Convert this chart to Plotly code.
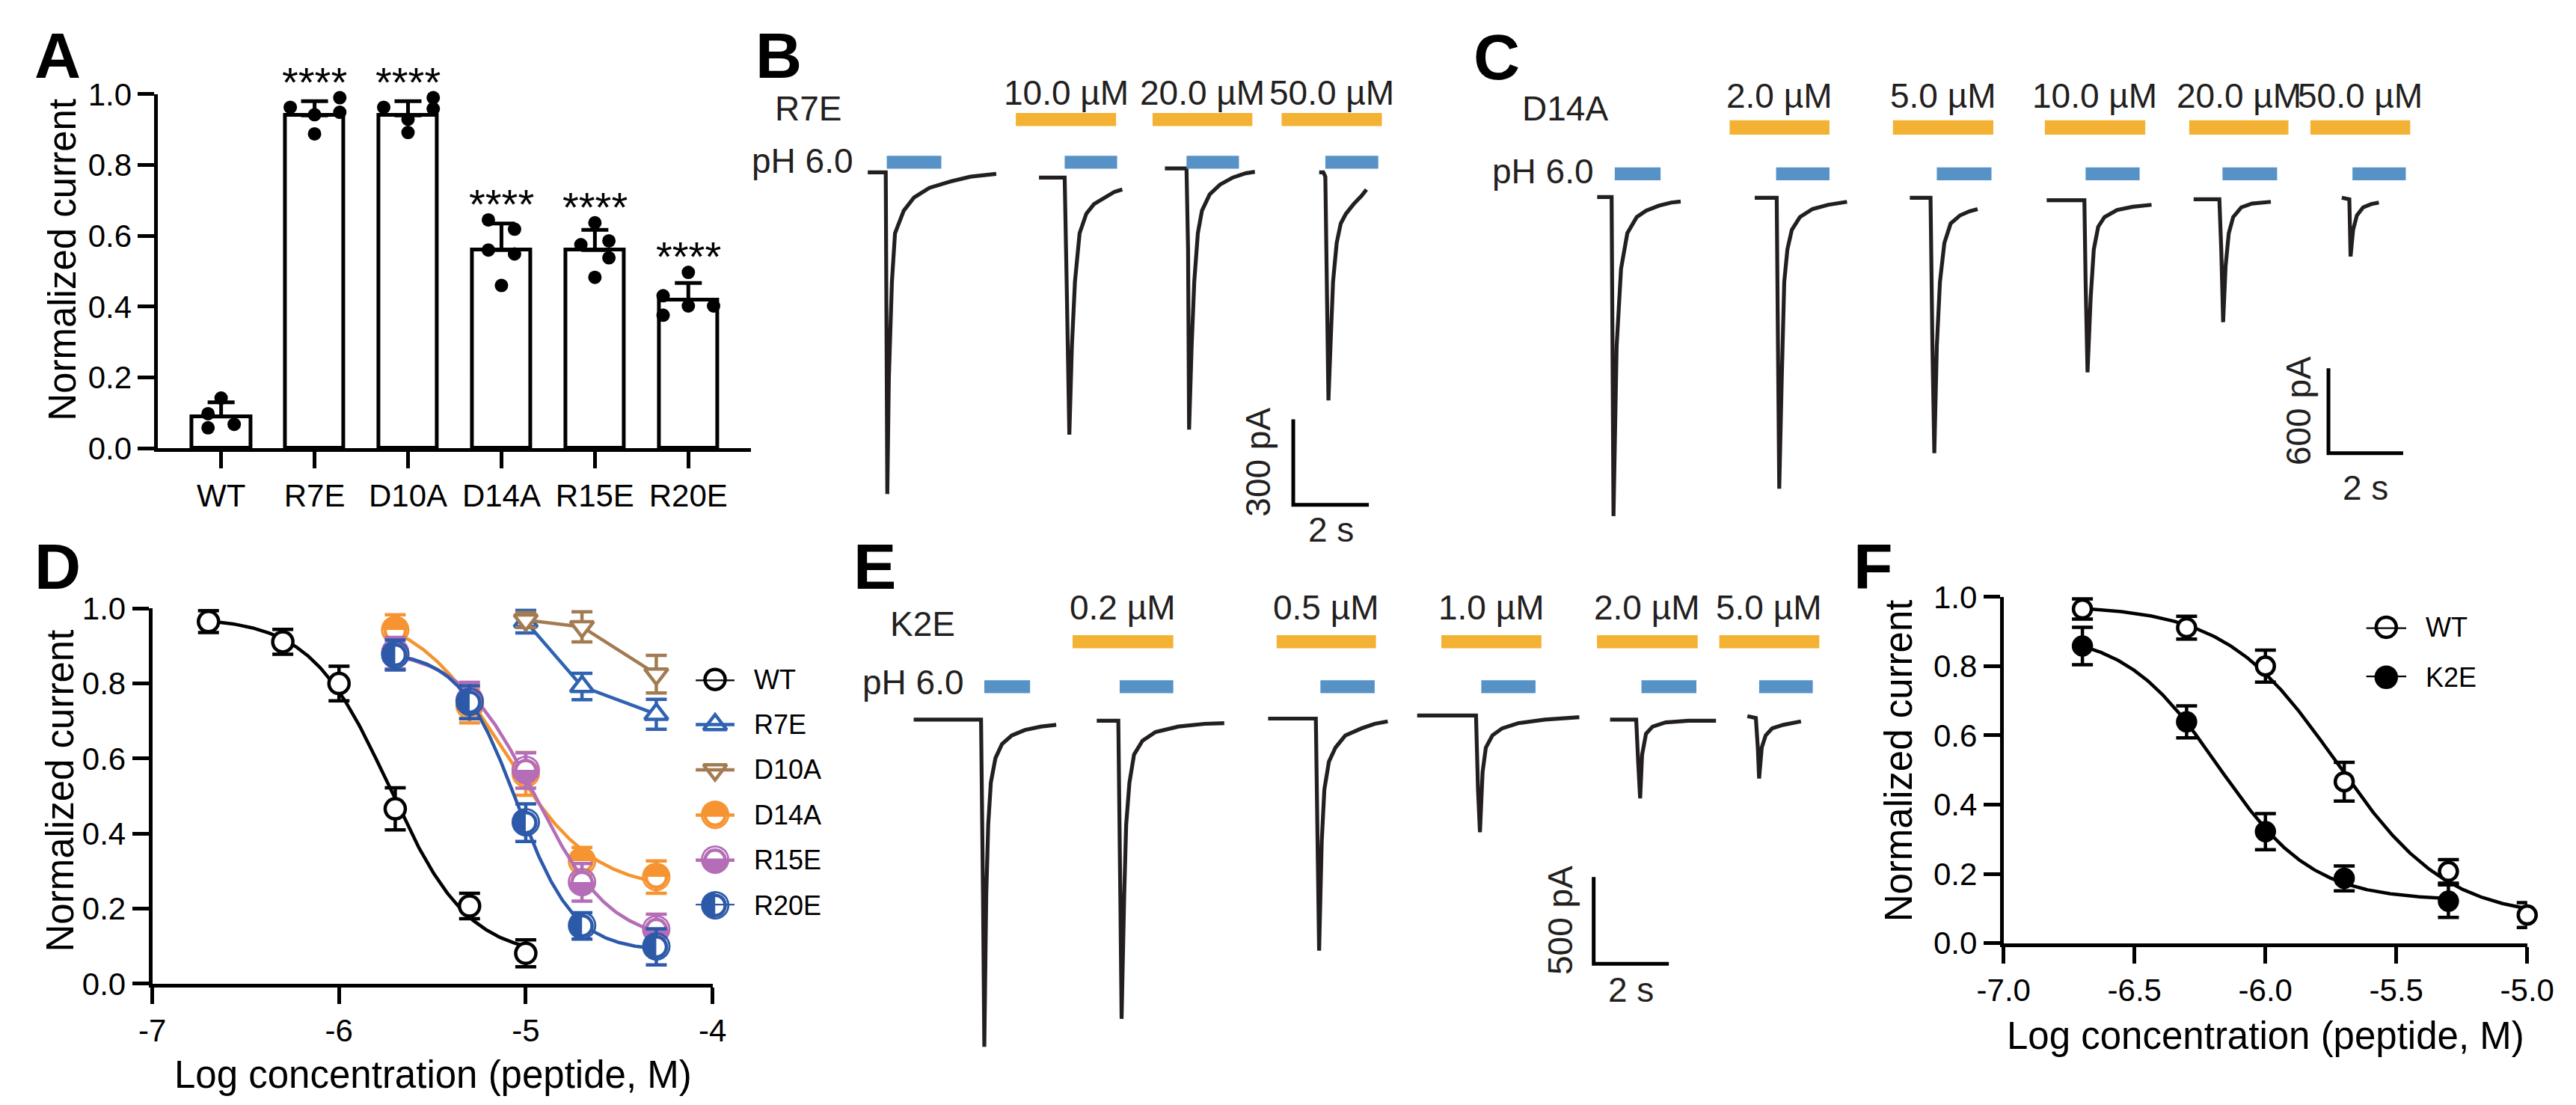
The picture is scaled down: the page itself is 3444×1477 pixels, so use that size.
import numpy as np
import plotly.graph_objects as go

W, H = 3444, 1477
FONT = "Liberation Sans, Arial, Helvetica, sans-serif"
INK = "#231f20"

# ---------------- Panel A data ----------------
A_GROUPS = ["WT", "R7E", "D10A", "D14A", "R15E", "R20E"]
A_MEAN = [0.09, 0.94, 0.94, 0.56, 0.56, 0.42]
A_SD = [0.04, 0.04, 0.04, 0.075, 0.057, 0.047]
A_POINTS = [
    [0.142, 0.098, 0.058, 0.068],
    [0.963, 0.990, 0.942, 0.949, 0.888],
    [0.963, 0.990, 0.929, 0.959, 0.892],
    [0.645, 0.619, 0.560, 0.549, 0.460],
    [0.637, 0.575, 0.586, 0.538, 0.483],
    [0.497, 0.431, 0.402, 0.402, 0.376],
]
A_SIG = ["", "****", "****", "****", "****", "****"]
# horizontal jitter of the dots (style)
A_JITTER = [
    [0.0, -0.14, -0.14, 0.14],
    [-0.26, 0.27, 0.0, 0.27, 0.0],
    [-0.26, 0.27, 0.0, 0.27, 0.0],
    [-0.14, 0.14, -0.14, 0.14, 0.0],
    [0.0, -0.15, 0.15, 0.15, 0.0],
    [0.0, -0.27, 0.0, 0.27, -0.27],
]

# ---------------- Panel D / F data ----------------
WT_CONC = [0.2, 0.5, 1, 2, 5, 10]          # µM
WT_MEAN = [0.965, 0.911, 0.800, 0.466, 0.207, 0.081]
WT_SEM = [0.029, 0.033, 0.046, 0.056, 0.034, 0.036]
MUT_CONC = [2, 5, 10, 20, 50]
D14A_MEAN = [0.941, 0.741, 0.559, 0.326, 0.284]
D14A_SEM = [0.042, 0.046, 0.057, 0.037, 0.043]
R15E_MEAN = [0.881, 0.755, 0.568, 0.270, 0.144]
R15E_SEM = [0.042, 0.048, 0.047, 0.050, 0.041]
R20E_MEAN = [0.876, 0.750, 0.429, 0.154, 0.098]
R20E_SEM = [0.040, 0.044, 0.050, 0.035, 0.048]
HI_CONC = [10, 20, 50]
R7E_MEAN = [0.965, 0.792, 0.718]
R7E_SEM = [0.030, 0.035, 0.040]
D10A_MEAN = [0.969, 0.951, 0.825]
D10A_SEM = [0.020, 0.040, 0.050]
K2E_CONC = [0.2, 0.5, 1, 2, 5]
K2E_MEAN = [0.858, 0.639, 0.322, 0.187, 0.121]
K2E_SEM = [0.054, 0.046, 0.052, 0.036, 0.047]

# ---------------- current traces (time s, current pA) ----------------
B_LABELS = ["10.0 µM", "20.0 µM", "50.0 µM"]
B_START = [0, 4.531, 7.864, 11.946]
B_T = [
    [0, 0.476, 0.517, 0.558, 0.639, 0.721, 0.952, 1.224, 1.633, 2.177, 2.721, 3.265, 3.40],
    [0, 0.680, 0.735, 0.803, 0.871, 0.952, 1.075, 1.252, 1.456, 1.728, 2.000, 2.204],
    [0, 0.571, 0.612, 0.639, 0.707, 0.776, 0.871, 0.980, 1.184, 1.456, 1.796, 2.136, 2.381],
    [0, 0.109, 0.163, 0.204, 0.245, 0.299, 0.367, 0.463, 0.571, 0.707, 0.912, 1.116, 1.252],
]
B_I = [
    [0, 0, -1127, -722, -383, -213, -134, -88, -54, -32, -15, -7, -5],
    [-18, -18, -405, -919, -609, -383, -213, -145, -111, -88, -68, -60],
    [14, 14, -269, -901, -609, -383, -213, -134, -77, -43, -18, -3, 2],
    [0, 0, -15, -383, -799, -609, -383, -247, -179, -145, -111, -83, -60],
]
B_PH = [(0.503, 1.946), (5.211, 6.599), (8.435, 9.823), (12.109, 13.510)]
B_PEP = [(3.918, 6.571), (7.537, 10.177), (10.952, 13.605)]

C_LABELS = ["2.0 µM", "5.0 µM", "10.0 µM", "20.0 µM", "50.0 µM"]
C_START = [0, 4.219, 8.371, 12.036, 15.970, 19.937]
C_T = [
    [0, 0.387, 0.437, 0.521, 0.639, 0.807, 1.059, 1.311, 1.647, 1.984, 2.236],
    [0, 0.588, 0.622, 0.656, 0.723, 0.790, 0.874, 0.992, 1.210, 1.547, 1.967, 2.471],
    [0, 0.555, 0.605, 0.656, 0.723, 0.807, 0.925, 1.093, 1.345, 1.597, 1.815],
    [0, 1.009, 1.042, 1.093, 1.177, 1.261, 1.378, 1.547, 1.883, 2.303, 2.807],
    [0, 0.689, 0.740, 0.790, 0.857, 0.941, 1.059, 1.277, 1.563, 2.068],
    [0, 0.202, 0.235, 0.303, 0.404, 0.572, 0.790, 0.992],
]
C_I = [
    [0, 0, -2259, -1057, -508, -256, -142, -96, -62, -39, -32],
    [-5, -5, -1057, -2065, -1286, -600, -371, -233, -142, -85, -55, -34],
    [-5, -5, -1057, -1813, -1057, -600, -325, -188, -130, -101, -85],
    [-23, -23, -600, -1241, -714, -371, -211, -142, -92, -69, -55],
    [-16, -16, -371, -886, -485, -256, -142, -73, -46, -34],
    [-5, -16, -421, -233, -130, -73, -50, -39],
]
C_PH = [(0.471, 1.698), (4.791, 6.220), (9.094, 10.557), (13.078, 14.524), (16.743, 18.205), (20.223, 21.651)]
C_PEP = [(3.547, 6.220), (7.918, 10.607), (11.986, 14.675), (15.852, 18.508), (19.096, 21.769)]

E_LABELS = ["0.2 µM", "0.5 µM", "1.0 µM", "2.0 µM", "5.0 µM"]
E_START = [0, 4.873, 9.434, 13.402, 18.536, 22.191]
E_T = [
    [0, 1.793, 1.845, 1.880, 1.932, 1.984, 2.054, 2.176, 2.350, 2.611, 2.959, 3.394, 3.794],
    [0, 0.574, 0.627, 0.661, 0.731, 0.783, 0.870, 0.992, 1.218, 1.566, 2.176, 2.872, 3.394],
    [0, 1.271, 1.323, 1.358, 1.427, 1.497, 1.619, 1.793, 2.054, 2.489, 2.837, 3.185],
    [0, 1.566, 1.619, 1.671, 1.741, 1.828, 2.002, 2.263, 2.698, 3.394, 4.316],
    [0, 0.696, 0.748, 0.801, 0.853, 0.957, 1.131, 1.479, 2.089, 2.820],
    [0, 0.226, 0.278, 0.313, 0.383, 0.487, 0.661, 0.957, 1.427],
]
E_I = [
    [0, 0, -1008, -1885, -1008, -605, -363, -222, -141, -91, -60, -40, -30],
    [-6, -6, -1008, -1724, -1008, -605, -363, -202, -121, -71, -40, -24, -20],
    [6, 6, -806, -1331, -706, -403, -242, -161, -91, -50, -24, -10],
    [24, 24, -403, -649, -302, -161, -91, -50, -20, 0, 14],
    [0, 0, -242, -454, -202, -81, -40, -16, -6, -6],
    [20, 10, -161, -339, -161, -91, -50, -30, -10],
]
E_PH = [(1.880, 3.098), (5.483, 6.910), (10.826, 12.271), (15.108, 16.552), (19.372, 20.834), (22.505, 23.932)]
E_PEP = [(4.229, 6.910), (9.660, 12.305), (14.046, 16.709), (18.188, 20.869), (21.443, 24.106)]

# scale bars: (pA, s)
B_SCALE = (300, 2)
C_SCALE = (600, 2)
E_SCALE = (500, 2)

# ---------------- style ----------------
COL = {"WT": "#000000", "R7E": "#2f63b2", "D10A": "#a27b52", "D14A": "#f59431",
       "R15E": "#b46db6", "R20E": "#2c5aa9", "K2E": "#000000"}
YELLOW = "#f4b234"
BLUE = "#5792c6"
TICK = 42
TITLE = 51
LABEL = 46
TRACE_W = 5.2


def fx(x):
    return x / W


def fy(y):
    return 1 - y / H


def logc(conc_um):
    return np.log10(np.asarray(conc_um, float) * 1e-6)


def fit_hill(xs, ys):
    xs = np.asarray(xs, float)
    ys = np.asarray(ys, float)
    cs = np.linspace(-8.0, -3.5, 451)[:, None, None]
    hs = np.linspace(0.5, 3.5, 121)[None, :, None]
    s = 1.0 / (1.0 + 10.0 ** ((xs[None, None, :] - cs) * hs))
    u = 1 - s
    v = s
    suu = (u * u).sum(-1)
    svv = (v * v).sum(-1)
    suv = (u * v).sum(-1)
    suy = (u * ys).sum(-1)
    svy = (v * ys).sum(-1)
    det = suu * svv - suv ** 2
    det = np.where(np.abs(det) < 1e-12, np.nan, det)
    b = (svv * suy - suv * svy) / det
    t = (suu * svy - suv * suy) / det
    res = ((b[..., None] * u + t[..., None] * v - ys) ** 2).sum(-1)
    i, j = np.unravel_index(np.nanargmin(res), res.shape)
    return b[i, j], t[i, j], cs[i, 0, 0], hs[0, j, 0]


def hill_curve(xs, ys, n=300):
    b, t, c, h = fit_hill(xs, ys)
    xx = np.linspace(min(xs), max(xs), n)
    return xx, b + (t - b) / (1 + 10 ** ((xx - c) * h))


fig = go.Figure()
ann = []
shapes = []


def text(x, y, s, size=LABEL, xanchor="center", yanchor="middle", angle=0, xref="paper", yref="paper",
         color="black", xshift=0, yshift=0):
    ann.append(dict(x=x, y=y, xref=xref, yref=yref, text=s, showarrow=False, xanchor=xanchor,
                    yanchor=yanchor, textangle=angle, xshift=xshift, yshift=yshift,
                    font=dict(family=FONT, size=size, color=color)))


def data_axis(dom_px, rng, anchor, tickvals=None, ticktext=None, horizontal=True):
    d = dict(domain=[fx(dom_px[0]), fx(dom_px[1])] if horizontal else [fy(dom_px[1]), fy(dom_px[0])],
             range=rng, anchor=anchor, showline=True, linewidth=5, linecolor="black",
             ticks="outside", ticklen=22, tickwidth=5, tickcolor="black", showgrid=False,
             zeroline=False, tickfont=dict(family=FONT, size=TICK, color="black"))
    if tickvals is not None:
        d["tickvals"] = tickvals
        d["ticktext"] = ticktext
    return d


def hidden_axis(dom_px, rng, anchor, horizontal=True):
    return dict(domain=[fx(dom_px[0]), fx(dom_px[1])] if horizontal else [fy(dom_px[1]), fy(dom_px[0])],
                range=rng, anchor=anchor, visible=False, showgrid=False, zeroline=False)


layout = {}

# ================= Panel A =================
A_XDOM = (171, 981)
A_YDOM = (98, 587)       # top (1.0) and bottom (0.0) in px
A_YRANGE = [0, 1.0]
xa = list(range(len(A_GROUPS)))
fig.add_trace(go.Bar(x=xa, y=A_MEAN, width=0.63, marker=dict(color="white", line=dict(color="black", width=5)),
                     error_y=dict(type="data", array=A_SD, arrayminus=[0] * len(A_SD), symmetric=False,
                                  thickness=5, width=18, color="black"),
                     xaxis="x", yaxis="y", showlegend=False, hoverinfo="skip", cliponaxis=False))
dx, dy = [], []
for i, (pts, jit) in enumerate(zip(A_POINTS, A_JITTER)):
    dx += [i + j for j in jit]
    dy += pts
fig.add_trace(go.Scatter(x=dx, y=dy, mode="markers", marker=dict(color="black", size=18),
                         xaxis="x", yaxis="y", showlegend=False, cliponaxis=False, hoverinfo="skip"))


def a_paper_y(v):
    frac = (v - A_YRANGE[0]) / (A_YRANGE[1] - A_YRANGE[0])
    return fy(A_YDOM[1] - frac * (A_YDOM[1] - A_YDOM[0]))


for i, s in enumerate(A_SIG):
    if s:
        top = max(max(A_POINTS[i]), A_MEAN[i] + A_SD[i])
        ann.append(dict(x=i, y=a_paper_y(top + 0.045), xref="x", yref="paper", text=s, showarrow=False,
                        xanchor="center", yanchor="middle", font=dict(family=FONT, size=56, color="black")))
layout["xaxis"] = data_axis(A_XDOM, [-0.674, 5.674], "y", xa, A_GROUPS)
layout["yaxis"] = data_axis(A_YDOM, A_YRANGE, "x", [0, 0.2, 0.4, 0.6, 0.8, 1.0],
                            ["0.0", "0.2", "0.4", "0.6", "0.8", "1.0"], horizontal=False)
text(fx(40), fy(327), "Normalized current", size=TITLE, angle=-90)


# ================= trace panels =================
def trace_panel(ax, xdom, ydom, t0px, pxs, i0px, pxa, starts, T, I, ph, pep, labels, ybands, scale,
                scale_pos, scale_lab_shift, lab_y):
    xn = "x" + ax
    yn = "y" + ax
    layout["xaxis" + ax] = hidden_axis(xdom, [(xdom[0] - t0px) / pxs, (xdom[1] - t0px) / pxs], yn)
    layout["yaxis" + ax] = hidden_axis(ydom, [(i0px - ydom[1]) / pxa, (i0px - ydom[0]) / pxa], xn,
                                       horizontal=False)
    for st, t, cur in zip(starts, T, I):
        fig.add_trace(go.Scatter(x=np.asarray(t) + st, y=cur, mode="lines",
                                 line=dict(color=INK, width=TRACE_W), xaxis=xn, yaxis=yn,
                                 showlegend=False, hoverinfo="skip"))
    (py0, py1), (by0, by1) = ybands
    for a, b in pep:
        shapes.append(dict(type="rect", xref=xn, yref="paper", x0=a, x1=b, y0=fy(py1), y1=fy(py0),
                           fillcolor=YELLOW, line=dict(width=0), layer="above"))
    for a, b in ph:
        shapes.append(dict(type="rect", xref=xn, yref="paper", x0=a, x1=b, y0=fy(by1), y1=fy(by0),
                           fillcolor=BLUE, line=dict(width=0), layer="above"))
    for (a, b), lab in zip(pep, labels):
        text((a + b) / 2, fy(lab_y), lab, xref=xn, color=INK)
    pa, sec = scale
    sx, sy = scale_pos
    fig.add_trace(go.Scatter(x=[sx, sx, sx + sec], y=[sy + pa, sy, sy], mode="lines",
                             line=dict(color="black", width=5), xaxis=xn, yaxis=yn,
                             showlegend=False, hoverinfo="skip"))
    text(sx, sy + pa / 2, f"{pa} pA", xref=xn, yref=yn, angle=-90, xshift=scale_lab_shift[0], color=INK)
    text(sx + sec / 2, sy, f"{sec} s", xref=xn, yref=yn, yshift=scale_lab_shift[1], color=INK)


trace_panel("2", (1100, 1960), (40, 720), 1140, 51.6, 206, 0.394, B_START, B_T, B_I, B_PH, B_PEP,
            B_LABELS, ((124, 142), (183, 201)), B_SCALE, (11.26, -1165), (-47, -33), 96)
text(fx(1059), fy(118), "R7E", color=INK)
text(fx(1122), fy(190), "pH 6.0", xanchor="right", color=INK)

trace_panel("3", (1960, 3444), (40, 720), 2136, 51.0, 240, 0.195, C_START, C_T, C_I, C_PH, C_PEP,
            C_LABELS, ((134, 154), (199, 217)), C_SCALE, (19.58, -1813), (-40, -46), 100)
text(fx(2092), fy(118), "D14A", color=INK)
text(fx(2134), fy(204), "pH 6.0", xanchor="right", color=INK)

trace_panel("5", (1100, 2470), (760, 1440), 1202.7, 51.3, 961.5, 0.2396, E_START, E_T, E_I, E_PH, E_PEP,
            E_LABELS, ((845, 863), (907, 925)), E_SCALE, (18.10, -1407), (-44, -35), 807)
text(fx(1215), fy(829), "K2E", color=INK)
text(fx(1274), fy(910), "pH 6.0", xanchor="right", color=INK)

# ================= Panel D =================
GLYPH = {"D14A": "\u25d3", "R15E": "\u25d2", "R20E": "\u25d0"}
GLYPH_FONT = "DejaVu Sans"
GLYPH_SIZE = 50

d_series = [
    ("WT", WT_CONC, WT_MEAN, WT_SEM, "circle", True),
    ("R7E", HI_CONC, R7E_MEAN, R7E_SEM, "triangle-up", False),
    ("D10A", HI_CONC, D10A_MEAN, D10A_SEM, "triangle-down", False),
    ("D14A", MUT_CONC, D14A_MEAN, D14A_SEM, "circle", True),
    ("R15E", MUT_CONC, R15E_MEAN, R15E_SEM, "circle", True),
    ("R20E", MUT_CONC, R20E_MEAN, R20E_SEM, "circle", True),
]


def plot_series(name, conc, mean, sem, symbol, fitted, xn, yn, msize=27, filled=False):
    c = COL[name]
    x = logc(conc)
    if fitted:
        xx, yy = hill_curve(x, mean)
    else:
        xx, yy = x, mean
    fig.add_trace(go.Scatter(x=xx, y=yy, mode="lines", line=dict(color=c, width=4.5),
                             xaxis=xn, yaxis=yn, showlegend=False, hoverinfo="skip", cliponaxis=False))
    fig.add_trace(go.Scatter(x=x, y=mean, mode="markers",
                             marker=dict(symbol=symbol, size=msize, color=c if filled else "white",
                                         line=dict(color=c, width=4.5)),
                             error_y=dict(type="data", array=sem, thickness=4.5, width=14, color=c),
                             xaxis=xn, yaxis=yn, showlegend=False, hoverinfo="skip", cliponaxis=False))
    if name in GLYPH:
        fig.add_trace(go.Scatter(x=x, y=mean, mode="text", text=[GLYPH[name]] * len(x),
                                 textposition="middle center",
                                 textfont=dict(family=GLYPH_FONT, size=GLYPH_SIZE, color=c),
                                 xaxis=xn, yaxis=yn, showlegend=False, hoverinfo="skip", cliponaxis=False))


for s in d_series:
    plot_series(*s, "x4", "y4")
layout["xaxis4"] = data_axis((163, 928), [-7, -4], "y4", [-7, -6, -5, -4], ["-7", "-6", "-5", "-4"])
layout["yaxis4"] = data_axis((808, 1326), [0, 1.0], "x4", [0, 0.2, 0.4, 0.6, 0.8, 1.0],
                             ["0.0", "0.2", "0.4", "0.6", "0.8", "1.0"], horizontal=False)
text(fx(37), fy(1060), "Normalized current", size=TITLE, angle=-90)
text(fx(546), fy(1452), "Log concentration (peptide, M)", size=TITLE)


def legend(ax, xdom, ydom, entries):
    xn = "x" + ax
    yn = "y" + ax
    n = len(entries)
    layout["xaxis" + ax] = hidden_axis(xdom, [0, 1], yn)
    layout["yaxis" + ax] = hidden_axis(ydom, [n - 1, 0], xn, horizontal=False)
    for k, (name, symbol, filled) in enumerate(entries):
        c = COL[name]
        fig.add_trace(go.Scatter(x=[0, 1], y=[k, k], mode="lines", line=dict(color=c, width=4.5),
                                 xaxis=xn, yaxis=yn, showlegend=False, hoverinfo="skip", cliponaxis=False))
        fig.add_trace(go.Scatter(x=[0.5], y=[k], mode="markers",
                                 marker=dict(symbol=symbol, size=27, color=c if filled else "rgba(0,0,0,0)",
                                             line=dict(color=c, width=4.5)),
                                 xaxis=xn, yaxis=yn, showlegend=False, hoverinfo="skip", cliponaxis=False))
        if name in GLYPH:
            fig.add_trace(go.Scatter(x=[0.5], y=[k], mode="text", text=[GLYPH[name]],
                                     textposition="middle center",
                                     textfont=dict(family=GLYPH_FONT, size=GLYPH_SIZE, color=c),
                                     xaxis=xn, yaxis=yn, showlegend=False, hoverinfo="skip", cliponaxis=False))
        text(1, k, name, size=36, xref=xn, yref=yn, xanchor="left", xshift=24)


legend("7", (905, 958), (906, 1218), [(s[0], s[4], False) for s in d_series])

# ================= Panel F =================
plot_series("WT", WT_CONC, WT_MEAN, WT_SEM, "circle", True, "x6", "y6", msize=24)
plot_series("K2E", K2E_CONC, K2E_MEAN, K2E_SEM, "circle", True, "x6", "y6", msize=24, filled=True)
layout["xaxis6"] = data_axis((2691, 3406), [-7, -5], "y6", [-7, -6.5, -6, -5.5, -5],
                             ["-7.0", "-6.5", "-6.0", "-5.5", "-5.0"])
layout["yaxis6"] = data_axis((792, 1270), [0, 1.0], "x6", [0, 0.2, 0.4, 0.6, 0.8, 1.0],
                             ["0.0", "0.2", "0.4", "0.6", "0.8", "1.0"], horizontal=False)
text(fx(2548), fy(1018), "Normalized current", size=TITLE, angle=-90)
text(fx(3049), fy(1398), "Log concentration (peptide, M)", size=TITLE)
legend("8", (3186, 3241), (834, 903), [("WT", "circle", False), ("K2E", "circle", True)])

# ================= panel letters =================
for letter, x, y in [("A", 0, 44), ("B", 985, 44), ("C", 1965, 46), ("D", 0, 750), ("E", 1118, 750),
                     ("F", 2484, 750)]:
    text(fx(x), fy(y), f"<b>{letter}</b>", size=86, xanchor="left")

fig.update_layout(
    width=W, height=H, margin=dict(l=0, r=0, t=0, b=0),
    paper_bgcolor="white", plot_bgcolor="rgba(0,0,0,0)",
    font=dict(family=FONT, color="black"),
    annotations=ann, shapes=shapes, showlegend=False, bargap=0,
    **layout,
)
fig.write_html("out.html")
